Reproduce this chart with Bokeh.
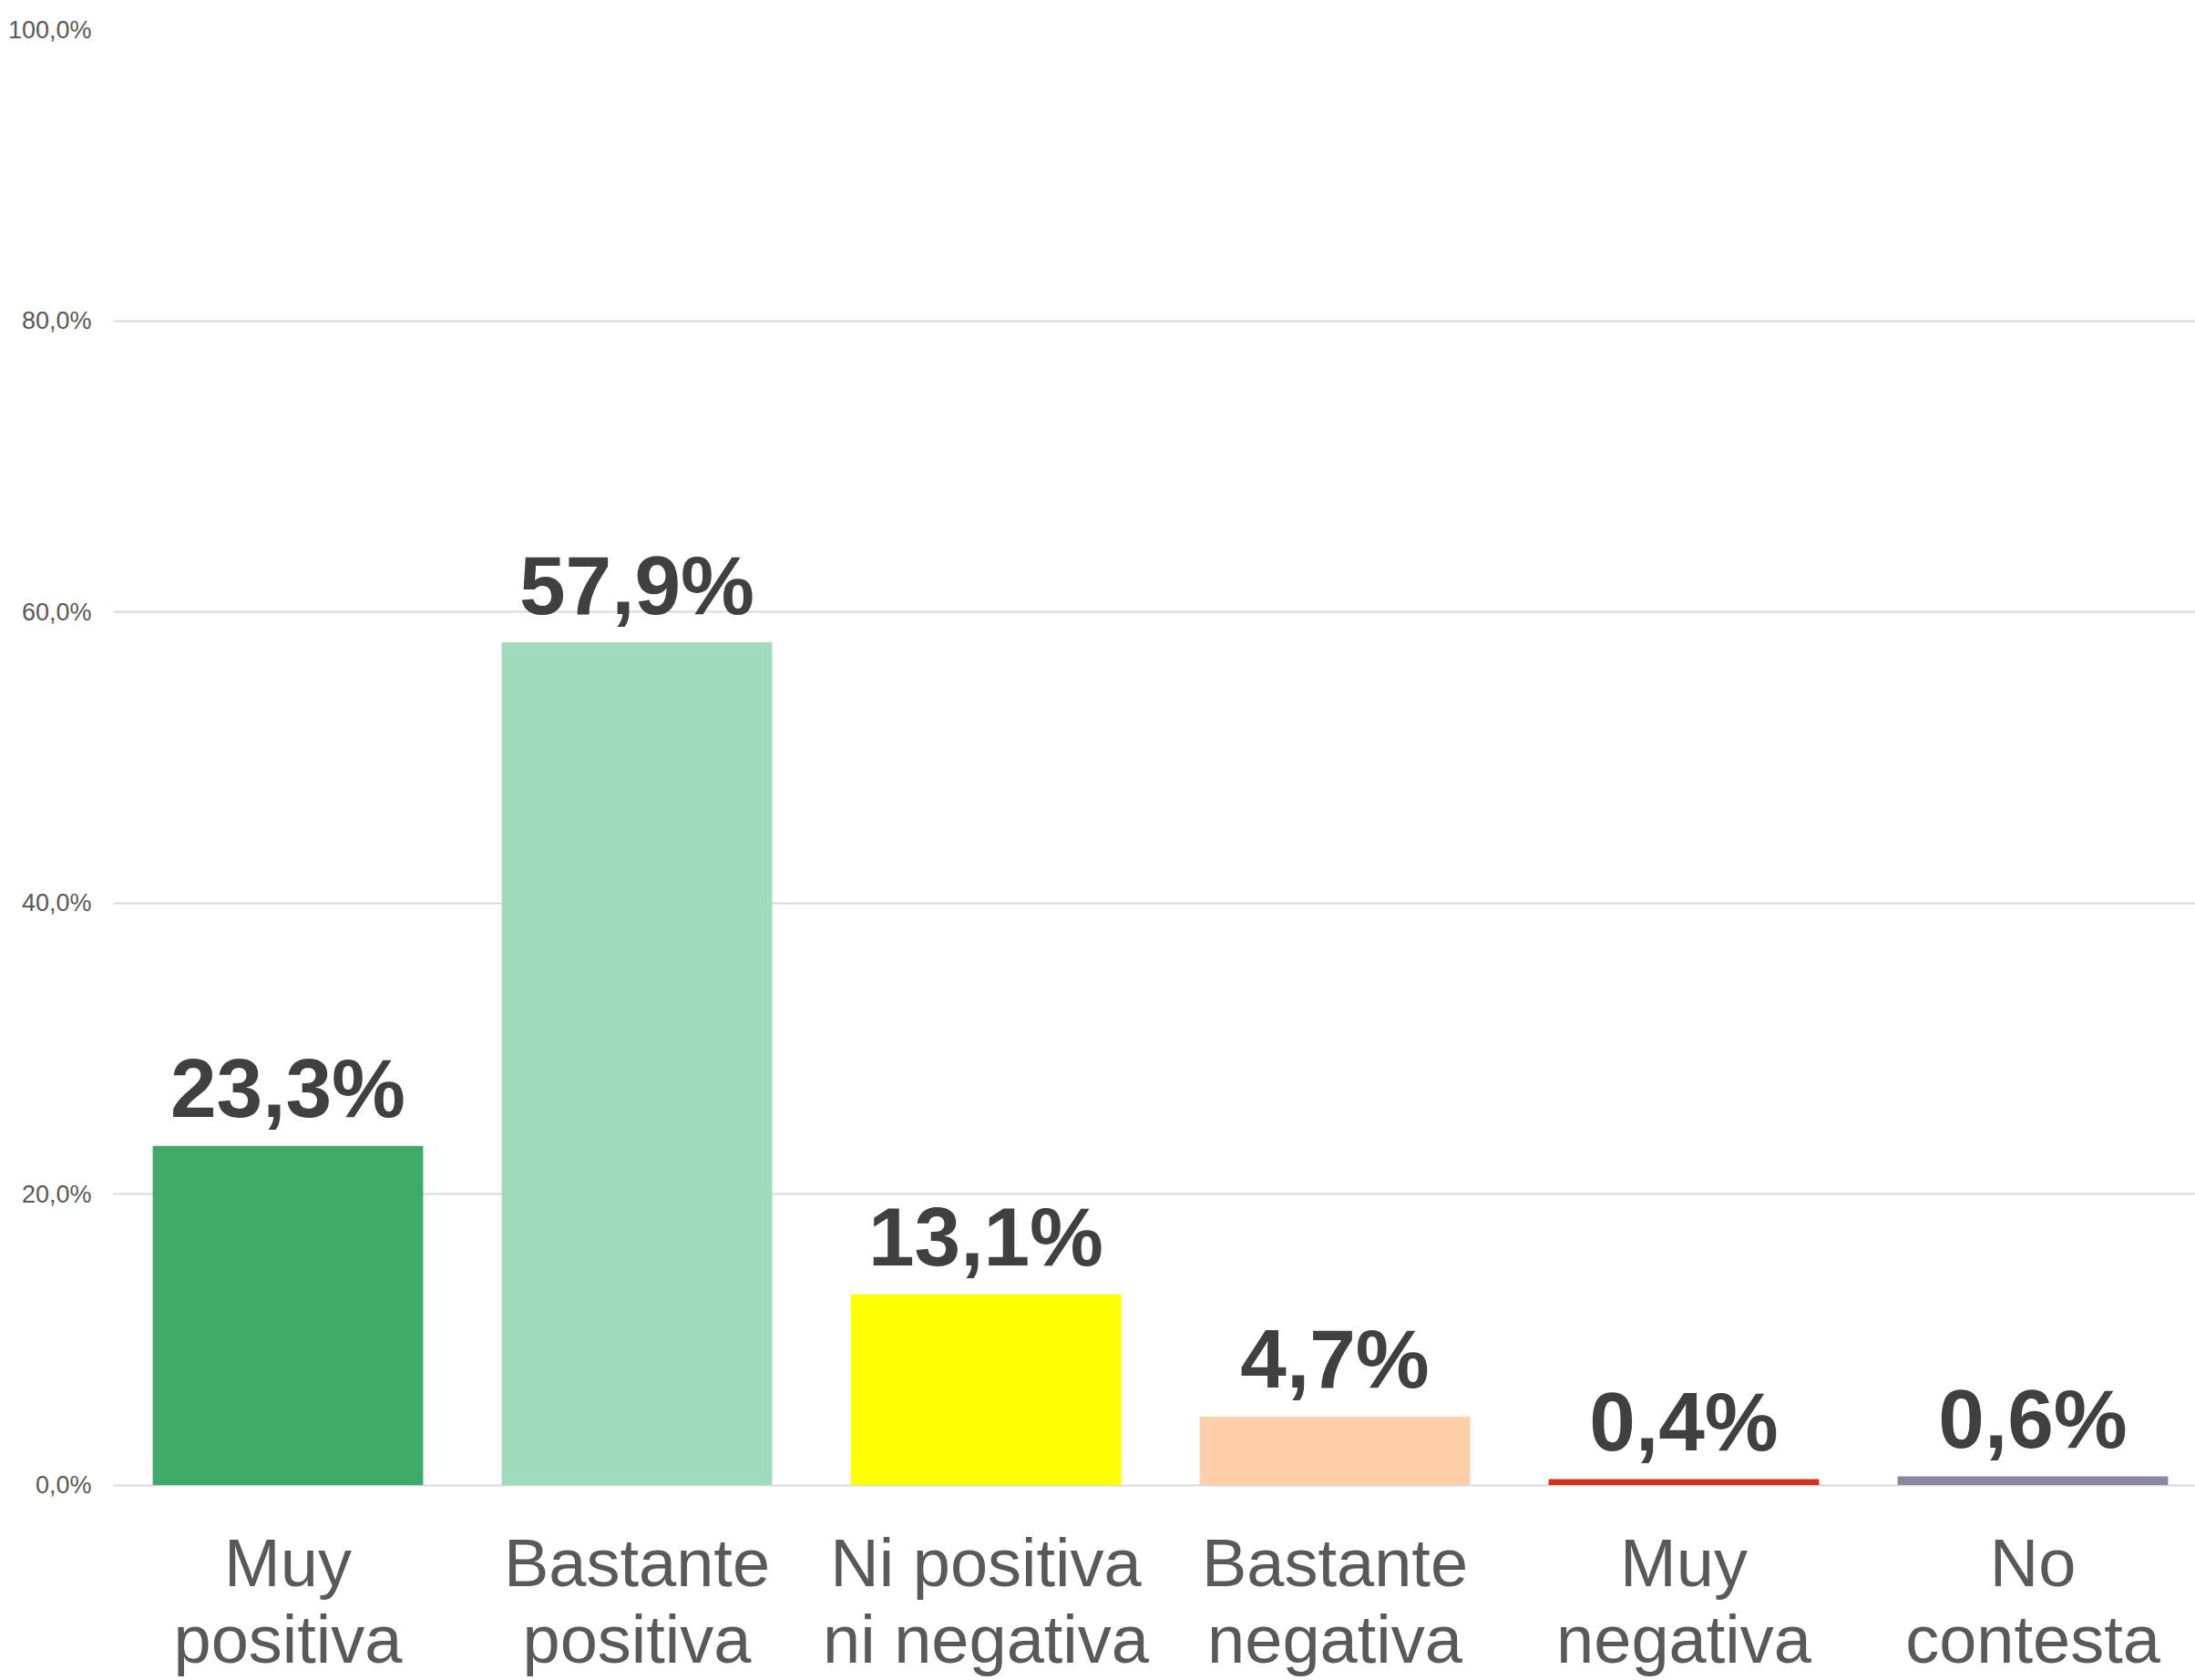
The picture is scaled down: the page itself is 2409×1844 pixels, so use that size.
from bokeh.plotting import figure
from bokeh.models import Range1d, FixedTicker, ColumnDataSource
from bokeh.core.properties import value
from bokeh.embed import file_html
from bokeh.resources import INLINE

categories_line1 = ["Muy", "Bastante", "Ni positiva", "Bastante", "Muy", "No"]
categories_line2 = ["positiva", "positiva", "ni negativa", "negativa", "negativa", "contesta"]
values = [23.3, 57.9, 13.1, 4.7, 0.4, 0.6]
value_labels = ["23,3%", "57,9%", "13,1%", "4,7%", "0,4%", "0,6%"]
colors = ["#3FA968", "#A0DCBB", "#FFFF00", "#FFCFA9", "#D5311A", "#8E87A1"]
y_ticks = [0, 20, 40, 60, 80, 100]
y_tick_labels = ["0,0%", "20,0%", "40,0%", "60,0%", "80,0%", "100,0%"]

xs = [i + 0.5 for i in range(len(values))]
src = ColumnDataSource(dict(x=xs, top=values, color=colors, lab=value_labels,
                            l1=categories_line1, l2=categories_line2,
                            zero=[0] * len(values)))

W, H = 2409, 1844
top_border = 32
left_border = 124
frame_h = H - top_border
zero_from_top = 1597.5
ystart = -100 * (frame_h - zero_from_top) / zero_from_top
band = 383.0
xend = (W - left_border) / band

p = figure(width=W, height=H, x_range=Range1d(0, xend), y_range=Range1d(ystart, 100),
           output_backend="svg", toolbar_location=None, x_axis_location=None,
           min_border_left=left_border, min_border_right=0, min_border_top=top_border,
           min_border_bottom=0)
p.outline_line_color = None
p.background_fill_color = "white"
p.border_fill_color = "white"
p.xgrid.visible = False

p.yaxis.ticker = FixedTicker(ticks=y_ticks)
p.yaxis.major_label_overrides = {t: l for t, l in zip(y_ticks, y_tick_labels)}
p.yaxis.axis_line_color = None
p.yaxis.major_tick_line_color = None
p.yaxis.minor_tick_line_color = None
p.yaxis.major_tick_out = 0
p.yaxis.major_label_standoff = 24
p.yaxis.major_label_text_font = "Liberation Sans"
p.yaxis.major_label_text_font_size = "27px"
p.yaxis.major_label_text_color = "#595959"
p.ygrid.grid_line_color = "#D9D9D9"
p.ygrid.grid_line_width = 2

p.vbar(x="x", top="top", bottom=0, width=0.775, fill_color="color", line_color=None, source=src)

p.text(x="x", y="top", text="lab", source=src, text_align="center", text_baseline="alphabetic",
       y_offset=-63, text_font=value("Liberation Sans"), text_font_style="bold",
       text_font_size="91px", text_color="#404040")

p.text(x="x", y="zero", text="l1", source=src, text_align="center", text_baseline="alphabetic",
       y_offset=85.5, text_font=value("Liberation Sans"), text_font_size="74px",
       text_color="#595959")
p.text(x="x", y="zero", text="l2", source=src, text_align="center", text_baseline="alphabetic",
       y_offset=169.5, text_font=value("Liberation Sans"), text_font_size="74px",
       text_color="#595959")

open("out.html", "w").write(file_html(p, INLINE))
